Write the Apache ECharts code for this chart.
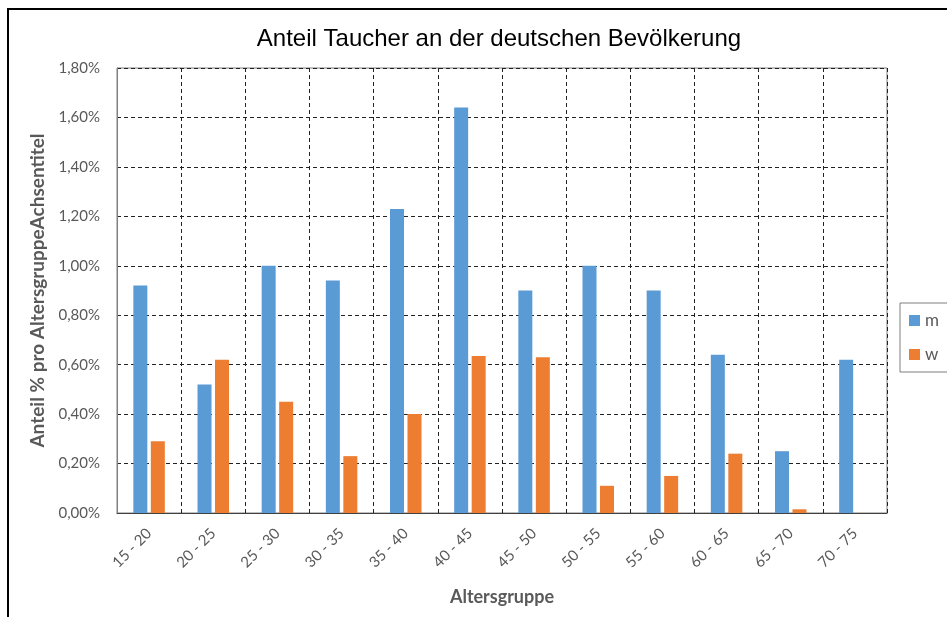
<!DOCTYPE html>
<html>
<head>
<meta charset="utf-8">
<script src="https://cdn.jsdelivr.net/npm/echarts@6/dist/echarts.min.js"></script>
<style>
  html, body { margin: 0; padding: 0; background: #fff; }
  #chart { width: 947px; height: 617px; }
</style>
</head>
<body>
<div id="chart"></div>
<script>
// Altersgruppen
const categories = ['15 - 20', '20 - 25', '25 - 30', '30 - 35', '35 - 40', '40 - 45',
    '45 - 50', '50 - 55', '55 - 60', '60 - 65', '65 - 70', '70 - 75'];
// Anteil in Prozent
const maleValues = [0.92, 0.52, 1.00, 0.94, 1.23, 1.64, 0.90, 1.00, 0.90, 0.64, 0.25, 0.62];
const femaleValues = [0.29, 0.62, 0.45, 0.23, 0.40, 0.635, 0.63, 0.11, 0.15, 0.24, 0.015, 0];
const seriesNames = ['m', 'w'];

const chart = echarts.init(document.getElementById('chart'));

const gray = '#595959';
const fmt = v => v.toFixed(2).replace('.', ',') + '%';

const option = {
    animation: false,
    color: ['#5B9BD5', '#ED7D31'],
    title: {
        text: 'Anteil Taucher an der deutschen Bevölkerung',
        left: 494,
        textAlign: 'center',
        top: 22,
        textStyle: {
            fontFamily: 'Liberation Sans',
            fontSize: 24,
            fontWeight: 'normal',
            color: '#000'
        }
    },
    graphic: [
        {
            type: 'rect',
            shape: { x: 8, y: 9, width: 1000, height: 700 },
            style: { fill: 'none', stroke: '#000', lineWidth: 2 },
            silent: true
        }
    ],
    legend: {
        orient: 'vertical',
        left: 900,
        top: 303,
        itemWidth: 11,
        itemHeight: 11,
        itemGap: 17,
        padding: [9, 40, 9, 9],
        borderColor: '#7f7f7f',
        borderWidth: 1,
        icon: 'rect',
        textStyle: { fontFamily: 'Lato', fontSize: 17, color: gray },
        data: seriesNames
    },
    grid: {
        left: 117,
        right: 60,
        top: 68,
        bottom: 104,
        show: true,
        borderColor: '#808080',
        borderWidth: 1
    },
    xAxis: {
        type: 'category',
        data: categories,
        name: 'Altersgruppe',
        nameLocation: 'middle',
        nameGap: 75,
        nameTextStyle: { fontFamily: 'Lato', fontSize: 18, fontWeight: 'bold', color: gray },
        axisLine: { lineStyle: { color: '#404040', width: 1 } },
        axisTick: { show: false },
        axisLabel: {
            rotate: 45,
            margin: 18,
            fontFamily: 'Lato',
            fontSize: 15,
            color: gray,
            interval: 0
        },
        splitLine: {
            show: true,
            lineStyle: { color: '#222', type: [4, 3], width: 1 }
        }
    },
    yAxis: {
        type: 'value',
        min: 0,
        max: 1.8,
        interval: 0.2,
        name: 'Anteil % pro AltersgruppeAchsentitel',
        nameLocation: 'middle',
        nameGap: 70,
        nameTextStyle: { fontFamily: 'Lato', fontSize: 19, fontWeight: 'bold', color: gray },
        axisLine: { show: true, lineStyle: { color: '#808080' } },
        axisTick: { show: false },
        axisLabel: {
            margin: 17,
            fontFamily: 'Lato',
            fontSize: 15,
            color: gray,
            formatter: fmt
        },
        splitLine: {
            lineStyle: { color: '#222', type: [4, 3], width: 1 }
        }
    },
    series: [
        {
            name: seriesNames[0],
            type: 'bar',
            data: maleValues,
            barWidth: 14,
            barGap: '25%'
        },
        {
            name: seriesNames[1],
            type: 'bar',
            data: femaleValues,
            barWidth: 14,
            barGap: '25%'
        }
    ]
};

chart.setOption(option);
</script>
</body>
</html>
